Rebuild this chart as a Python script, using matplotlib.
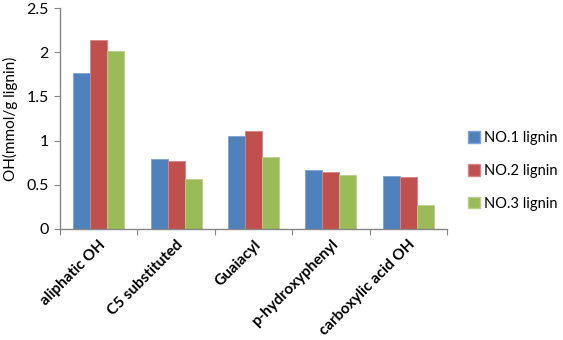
import numpy as np
import matplotlib.pyplot as plt
from matplotlib.patches import Patch

categories = ["aliphatic OH", "C5 substituted", "Guaiacyl", "p-hydroxyphenyl", "carboxylic acid OH"]
series_names = ["NO.1 lignin", "NO.2 lignin", "NO.3 lignin"]
no1 = [1.76, 0.79, 1.05, 0.67, 0.60]
no2 = [2.14, 0.77, 1.11, 0.65, 0.59]
no3 = [2.01, 0.57, 0.81, 0.61, 0.27]
colors = ["#4F81BD", "#C0504D", "#9BBB59"]
edges = ["#7FA3D3", "#D88583", "#B6D18A"]

plt.rcParams['font.family'] = ['Lato', 'DejaVu Sans']

fig = plt.figure(figsize=(5.63, 3.40), dpi=100)
ax = fig.add_axes([60 / 563, 111 / 340, 387 / 563, 221 / 340])

x = np.arange(len(categories))
w = 0.22
for i, vals in enumerate([no1, no2, no3]):
    ax.bar(x + (i - 1) * w, vals, w, color=colors[i], edgecolor=edges[i],
           linewidth=0.6, label=series_names[i])

ax.set_xlim(-0.5, len(categories) - 0.5)
ax.set_ylim(0, 2.5)
ax.set_yticks([0, 0.5, 1, 1.5, 2, 2.5])
ax.set_yticklabels(["0", "0.5", "1", "1.5", "2", "2.5"], fontsize=11.5)
ax.set_xticks(np.arange(len(categories) + 1) - 0.5, minor=False)
ax.set_xticklabels([])
ax.set_xticks(x, minor=True)
ax.set_xticklabels(categories, minor=True, rotation=45, ha='right',
                   rotation_mode='anchor', fontsize=11, fontweight='bold')
ax.tick_params(axis='x', which='minor', length=0, pad=6)
ax.tick_params(axis='x', which='major', length=4, color='#868686')
ax.tick_params(axis='y', length=4, color='#868686', pad=4)

for s in ['top', 'right']:
    ax.spines[s].set_visible(False)
for s in ['left', 'bottom']:
    ax.spines[s].set_color('#868686')
    ax.spines[s].set_linewidth(1.0)

ax.set_ylabel("OH(mmol/g lignin)", fontsize=11, labelpad=6)

handles = [Patch(facecolor=colors[i], edgecolor=edges[i], label=series_names[i]) for i in range(3)]
fig.legend(handles=handles, loc='center left', bbox_to_anchor=(462 / 563, 1 - 171 / 340),
           frameon=False, fontsize=10.5, handlelength=0.8, handleheight=0.8,
           handletextpad=0.3, labelspacing=1.3, borderpad=0.2, borderaxespad=0.2)

fig.savefig("out.png", dpi=100)
